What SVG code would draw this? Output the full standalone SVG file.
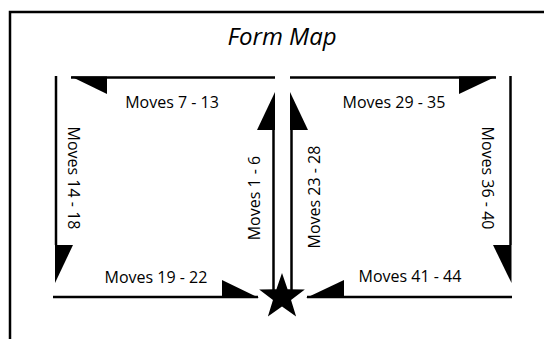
<svg xmlns="http://www.w3.org/2000/svg" width="544" height="339" viewBox="0 0 544 339">
<style>
.ln{fill:none;stroke:#000;stroke-width:2.5}
.ah{fill:#000;stroke:none}
.lbl{font-family:"Open Sans","Liberation Sans",sans-serif;font-size:16px;fill:#000;text-anchor:middle}
.ttl{font-family:"Open Sans","Liberation Sans",sans-serif;font-size:24px;font-style:italic;fill:#000;text-anchor:middle}
</style>
<rect width="544" height="339" fill="#fff"/>
<path class="ln" d="M10,339 V12 H544"/>
<g id="title"><text class="ttl" x="282" y="45">Form Map</text></g>
<g id="connectors">
  <!-- left box -->
  <path class="ln" d="M71,77.5 H275"/>
  <polygon class="ah" points="71,76.5 107,76.5 107,94"/>
  <path class="ln" d="M56,76 V245"/>
  <polygon class="ah" points="55,245 73,245 55,283"/>
  <path class="ln" d="M53,297 H258"/>
  <polygon class="ah" points="222,280 222,298 259,298"/>
  <path class="ln" d="M273.5,130 V290"/>
  <polygon class="ah" points="275,92 275,130 257,130"/>
  <!-- right box -->
  <path class="ln" d="M290,77.5 H496"/>
  <polygon class="ah" points="496,76.5 459,76.5 459,94"/>
  <path class="ln" d="M510.5,76 V245"/>
  <polygon class="ah" points="511.5,245 493,245 511.5,283"/>
  <path class="ln" d="M307,297 H512"/>
  <polygon class="ah" points="344,280 344,298 306,298"/>
  <path class="ln" d="M291.5,130 V290"/>
  <polygon class="ah" points="290,92 290,130 308,130"/>
</g>
<g id="start">
  <polygon class="ah" points="282,273 287.58,289.31 304.83,289.58 291.04,299.94 296.11,316.42 282,306.5 267.89,316.42 272.96,299.94 259.17,289.58 276.42,289.31"/>
</g>
<g id="moves-1-6"><text class="lbl" transform="translate(260,198) rotate(-90)">Moves 1 - 6</text></g>
<g id="moves-7-13"><text class="lbl" x="172" y="108">Moves 7 - 13</text></g>
<g id="moves-14-18"><text class="lbl" transform="translate(68,178) rotate(90)">Moves 14 - 18</text></g>
<g id="moves-19-22"><text class="lbl" x="156" y="283">Moves 19 - 22</text></g>
<g id="moves-23-28"><text class="lbl" transform="translate(320,197) rotate(-90)">Moves 23 - 28</text></g>
<g id="moves-29-35"><text class="lbl" x="394" y="108">Moves 29 - 35</text></g>
<g id="moves-36-40"><text class="lbl" transform="translate(482,178) rotate(90)">Moves 36 - 40</text></g>
<g id="moves-41-44"><text class="lbl" x="410" y="282">Moves 41 - 44</text></g>
</svg>
